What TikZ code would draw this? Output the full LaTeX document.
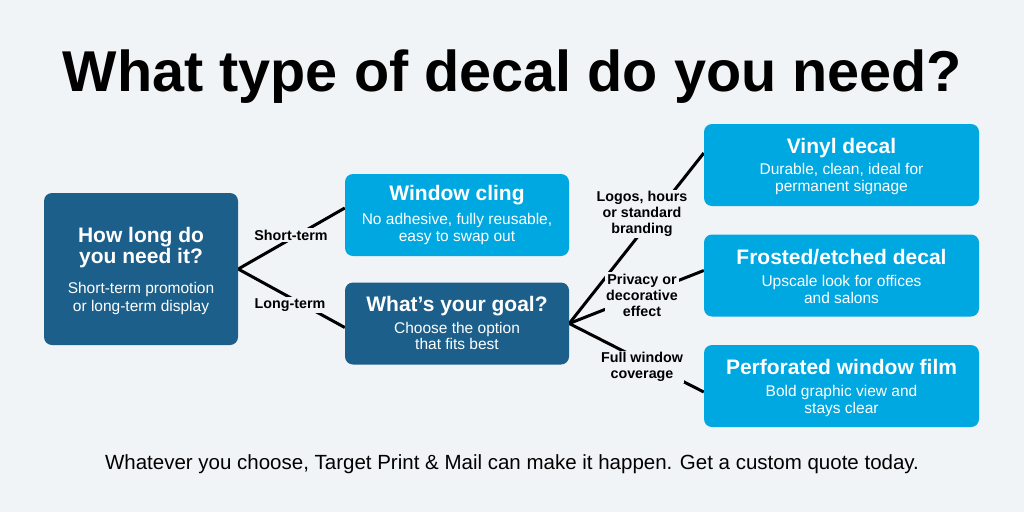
\documentclass[tikz,border=0pt]{standalone}
\usepackage{fontspec}
\setmainfont{Liberation Sans}
\usetikzlibrary{positioning}
\definecolor{bg}{HTML}{F1F4F7}
\definecolor{darkb}{HTML}{1B5F8A}
\definecolor{lightb}{HTML}{00A8E1}
\pgfdeclarelayer{back}
\pgfsetlayers{back,main}
\begin{document}
\begin{tikzpicture}[x=1pt,y=-1pt,
  box/.style={rounded corners=8pt, inner sep=0pt},
  darkbox/.style={box, fill=darkb},
  lightbox/.style={box, fill=lightb},
  ttl/.style={text=white, font=\bfseries\fontsize{21}{24}\selectfont, anchor=base, inner sep=0pt},
  sub/.style={text=white, font=\fontsize{15.5}{18}\selectfont, anchor=base, inner sep=0pt},
  conn/.style={line width=3pt, draw=black},
  lbl/.style={fill=bg, text=black, font=\bfseries\fontsize{14.3}{16}\selectfont, align=center, inner sep=1.5pt},
]
\useasboundingbox (0,0) rectangle (1024,512);

% title
\node[font=\bfseries\fontsize{57.6}{60}\selectfont, anchor=base, inner sep=0pt] (title) at (512.5,91) {What type of decal do you need?};

% boxes
\node[darkbox, minimum width=194pt, minimum height=152pt] (q1) at (141,269) {};
\node[lightbox, minimum width=224pt, minimum height=82pt] (cling) at (457,215) {};
\node[darkbox, minimum width=224pt, minimum height=82pt] (goal) at (457,323.5) {};
\node[lightbox, minimum width=275pt, minimum height=82pt] (vinyl) at (841.5,165) {};
\node[lightbox, minimum width=275pt, minimum height=82pt] (frost) at (841.5,275.5) {};
\node[lightbox, minimum width=275pt, minimum height=82pt] (perf) at (841.5,386) {};

% box texts
\node[ttl] (q1a) at (141,242) {How long do};
\node[ttl] (q1b) at (141,263) {you need it?};
\node[sub] (q1c) at (141,293) {Short-term promotion};
\node[sub] (q1d) at (141,311) {or long-term display};

\node[ttl] (clinga) at (457,200) {Window cling};
\node[sub] (clingb) at (457,224) {No adhesive, fully reusable,};
\node[sub] (clingc) at (457,241) {easy to swap out};

\node[ttl] (goala) at (457,311) {What’s your goal?};
\node[sub] (goalb) at (457,333) {Choose the option};
\node[sub] (goalc) at (457,349) {that fits best};

\node[ttl] (vinyla) at (841.5,153) {Vinyl decal};
\node[sub] (vinylb) at (841.5,174) {Durable, clean, ideal for};
\node[sub] (vinylc) at (841.5,191) {permanent signage};

\node[ttl] (frosta) at (841.5,264) {Frosted/etched decal};
\node[sub] (frostb) at (841.5,286) {Upscale look for offices};
\node[sub] (frostc) at (841.5,303) {and salons};

\node[ttl] (perfa) at (841.5,374) {Perforated window film};
\node[sub] (perfb) at (841.5,396) {Bold graphic view and};
\node[sub] (perfc) at (841.5,413) {stays clear};

% connector labels
\node[lbl, anchor=base] (lshort) at (291,240) {Short-term};
\node[lbl, anchor=base] (llong) at (290,308) {Long-term};
\node[lbl] (llogo) at (642,214) {Logos, hours\\or standard\\branding};
\node[lbl] (lpriv) at (642,295) {Privacy or\\decorative\\effect};
\node[lbl] (lfull) at (642,367) {Full window\\coverage};

% footer
\node[font=\fontsize{20.5}{23}\selectfont, anchor=base, inner sep=0pt] (foot) at (512,469) {Whatever you choose, Target Print \& Mail can make it happen. Get a custom quote today.};

\begin{pgfonlayer}{back}
\fill[bg] (0,0) rectangle (1024,512);
\draw[conn] (q1.east) -- ([yshift=7pt]cling.west);
\draw[conn] (q1.east) -- ([yshift=-4pt]goal.west);
\draw[conn] (goal.east) -- ([yshift=12pt]vinyl.west);
\draw[conn] (goal.east) -- ([yshift=5pt]frost.west);
\draw[conn] (goal.east) -- ([yshift=-6pt]perf.west);
\end{pgfonlayer}
\end{tikzpicture}
\end{document}
